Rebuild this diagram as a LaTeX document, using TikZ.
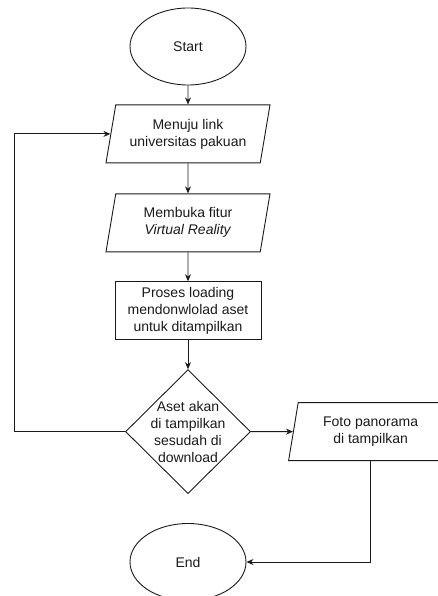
\documentclass[tikz,border=0pt]{standalone}
\usepackage{fontspec}
\setmainfont{Liberation Sans}
\usepackage{tikz}
\usetikzlibrary{arrows.meta,positioning,shapes.geometric}
\definecolor{ink}{HTML}{1A1A1A}

\begin{document}
\begin{tikzpicture}[x=1pt,y=-1pt,>={Stealth[length=7pt,width=6pt]},color=ink,line width=0.9pt,
  every node/.style={draw,font=\fontsize{14}{17}\selectfont,align=center,inner sep=0pt},
  terminal/.style={ellipse,minimum width=116pt,minimum height=77pt},
  io/.style={trapezium,trapezium left angle=72,trapezium right angle=108,trapezium stretches body,minimum width=164pt,minimum height=58pt},
  proc/.style={rectangle,minimum width=146pt,minimum height=58pt},
  decide/.style={diamond,minimum width=125pt,minimum height=124pt,inner sep=-6pt}]
\useasboundingbox (0,0) rectangle (437,596);
\node[terminal] (mulai) at (188,46.5) {Start};
\node[io,below=19pt of mulai] (link) {Menuju link\\universitas pakuan};
\node[io,below=30pt of link] (fitur) {Membuka fitur\\\textit{Virtual Reality}};
\node[proc,below=29pt of fitur] (muat) {Proses loading\\mendonwlolad aset\\untuk ditampilkan};
\node[decide,below=29pt of muat] (cek) {Aset akan\\di tampilkan\\sesudah di\\download};
\node[io,right=42pt of cek] (foto) {Foto panorama\\di tampilkan};
\node[terminal] (selesai) at (188,562) {End};
\coordinate (kiri) at (14,427);
\draw[->] (mulai) -- (link);
\draw[->] (link) -- (fitur);
\draw[->] (fitur) -- (muat);
\draw[->] (muat) -- (cek);
\draw[->] (cek) -- (foto);
\draw[->] (foto.south) |- (selesai);
\draw[->] (cek.west) -- (cek.west -| kiri) |- (link.west);
\end{tikzpicture}
\end{document}
